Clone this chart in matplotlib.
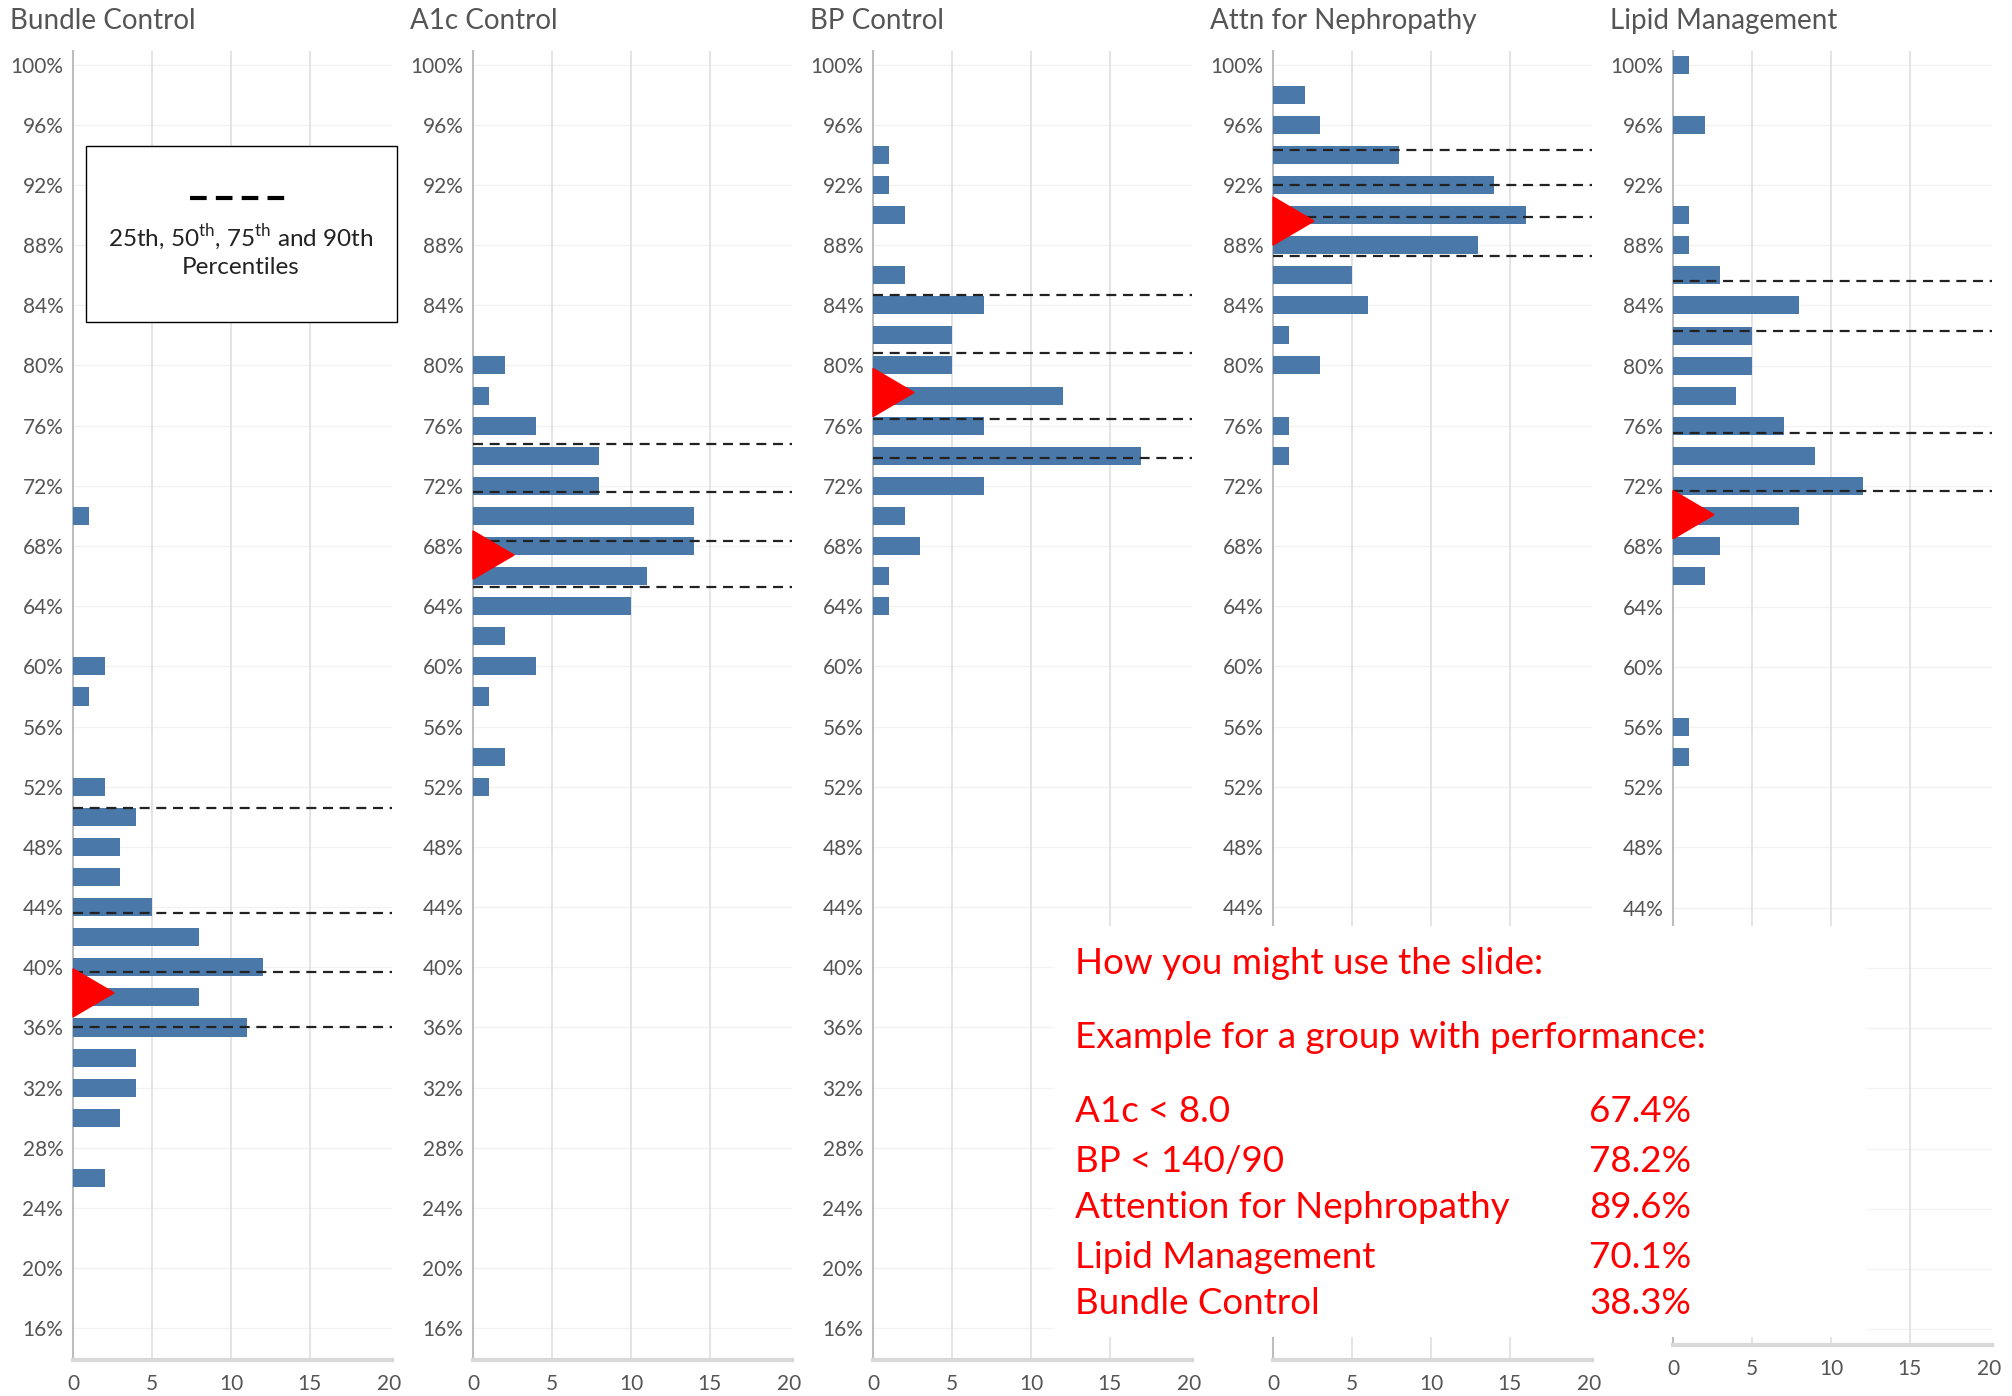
import matplotlib
matplotlib.use("Agg")
import matplotlib.pyplot as plt
from matplotlib.patches import Rectangle, Polygon
from matplotlib.lines import Line2D

plt.rcParams['font.family'] = ['Lato', 'DejaVu Sans']
plt.rcParams['mathtext.fontset'] = 'custom'
plt.rcParams['mathtext.rm'] = 'Lato'

# ---- data ----
titles = ["Bundle Control", "A1c Control", "BP Control", "Attn for Nephropathy", "Lipid Management"]

bundle_bins = [70, 60, 58, 52, 50, 48, 46, 44, 42, 40, 38, 36, 34, 32, 30, 26]
bundle_counts = [1, 2, 1, 2, 4, 3, 3, 5, 8, 12, 8, 11, 4, 4, 3, 2]
bundle_pct = [36.0, 39.7, 43.6, 50.6]
bundle_you = 38.3

a1c_bins = [80, 78, 76, 74, 72, 70, 68, 66, 64, 62, 60, 58, 54, 52]
a1c_counts = [2, 1, 4, 8, 8, 14, 14, 11, 10, 2, 4, 1, 2, 1]
a1c_pct = [65.3, 68.3, 71.6, 74.8]
a1c_you = 67.4

bp_bins = [94, 92, 90, 86, 84, 82, 80, 78, 76, 74, 72, 70, 68, 66, 64]
bp_counts = [1, 1, 2, 2, 7, 5, 5, 12, 7, 17, 7, 2, 3, 1, 1]
bp_pct = [73.85, 76.45, 80.8, 84.7]
bp_you = 78.2

neph_bins = [98, 96, 94, 92, 90, 88, 86, 84, 82, 80, 76, 74]
neph_counts = [2, 3, 8, 14, 16, 13, 5, 6, 1, 3, 1, 1]
neph_pct = [87.3, 89.9, 92.0, 94.3]
neph_you = 89.6

lipid_bins = [100, 96, 90, 88, 86, 84, 82, 80, 78, 76, 74, 72, 70, 68, 66, 56, 54]
lipid_counts = [1, 2, 1, 1, 3, 8, 5, 5, 4, 7, 9, 12, 8, 3, 2, 1, 1]
lipid_pct = [71.7, 75.5, 82.3, 85.6]
lipid_you = 70.1

panel_bins = [bundle_bins, a1c_bins, bp_bins, neph_bins, lipid_bins]
panel_counts = [bundle_counts, a1c_counts, bp_counts, neph_counts, lipid_counts]
panel_pct = [bundle_pct, a1c_pct, bp_pct, neph_pct, lipid_pct]
panel_you = [bundle_you, a1c_you, bp_you, neph_you, lipid_you]

y_ticks = list(range(16, 101, 4))
x_ticks = [0, 5, 10, 15, 20]

example_labels = ["A1c < 8.0", "BP < 140/90", "Attention for Nephropathy",
                  "Lipid Management", "Bundle Control"]
example_values = ["67.4%", "78.2%", "89.6%", "70.1%", "38.3%"]

# ---- layout ----
W, H = 2012, 1396
fig = plt.figure(figsize=(W / 100, H / 100), dpi=100)
fig.patch.set_facecolor("white")

BLUE = "#4a78a9"
GRAY = "#555555"
XMAX = 20.2

for i in range(5):
    left = 73 + 400 * i
    bottom_px = 1345 if i == 4 else 1360
    ymin = 14.95 if i == 4 else 13.9
    ax = fig.add_axes([left / W, (H - bottom_px) / H, 319 / W, (bottom_px - 51) / H])
    ax.barh(panel_bins[i], panel_counts[i], height=1.2, color=BLUE, zorder=3)
    ax.set_xlim(0, XMAX)
    ax.set_ylim(ymin, 100.9)

    for v in [5, 10, 15]:
        ax.axvline(v, color="#e2e2e2", lw=1.3, zorder=1)
    for v in y_ticks:
        ax.axhline(v, color="#f2f2f2", lw=1, zorder=0)

    for p in panel_pct[i]:
        ax.plot([0, XMAX], [p, p], color="#222222", lw=1.6,
                ls=(0, (4.5, 3)), zorder=4, clip_on=False)

    v = panel_you[i]
    ax.add_patch(Polygon([[0, v + 1.6], [0, v - 1.6], [2.6, v]],
                         closed=True, color="#ff0000", zorder=6, clip_on=False))

    # the lower labels of the last two panels sit under the example box
    shown = y_ticks if i < 3 else [t for t in y_ticks if t >= 44]
    ax.set_yticks(shown)
    ax.set_yticklabels([f"{t}%" for t in shown])
    ax.set_xticks(x_ticks)
    ax.set_xticklabels([str(t) for t in x_ticks])
    ax.tick_params(length=0, labelsize=15, labelcolor=GRAY)
    ax.tick_params(axis="y", pad=7)
    ax.tick_params(axis="x", pad=10)
    for s in ["top", "right"]:
        ax.spines[s].set_visible(False)
    ax.spines["left"].set_color("#bdbdbd")
    ax.spines["left"].set_linewidth(1.5)
    ax.spines["bottom"].set_color("#d8d8d8")
    ax.spines["bottom"].set_linewidth(3)

    fig.text((10 + 400 * i) / W, 1 - 21 / H, titles[i], fontsize=20,
             color=GRAY, ha="left", va="center")

# legend box for percentile lines
fig.add_artist(Rectangle((86 / W, 1 - 322 / H), (397 - 86) / W, (322 - 146) / H,
                         transform=fig.transFigure, facecolor="white",
                         edgecolor="black", lw=1, zorder=10))
fig.add_artist(Line2D([190 / W, 285 / W], [1 - 198 / H, 1 - 198 / H],
                      transform=fig.transFigure, color="black", lw=3,
                      ls=(0, (4, 2.2)), zorder=11))
fig.text(241 / W, 1 - 238 / H, r"25th, 50$^{\mathrm{th}}$, 75$^{\mathrm{th}}$ and 90th",
         fontsize=17.5, color="#222222", ha="center", va="center", zorder=11)
fig.text(241 / W, 1 - 268 / H, "Percentiles", fontsize=17.5, color="#222222",
         ha="center", va="center", zorder=11)

# white box with the worked example
fig.add_artist(Rectangle((1053 / W, 1 - 1337 / H), (1867 - 1053) / W, (1337 - 926) / H,
                         transform=fig.transFigure, facecolor="white",
                         edgecolor="none", zorder=10))
RED = "#ff0000"
fig.text(1075 / W, 1 - 963 / H, "How you might use the slide:", fontsize=26.5,
         color=RED, ha="left", va="center", zorder=12)
fig.text(1075 / W, 1 - 1038 / H, "Example for a group with performance:", fontsize=26.5,
         color=RED, ha="left", va="center", zorder=12)
row_y = [1112, 1161, 1208, 1257, 1304]
for lab, val, yy in zip(example_labels, example_values, row_y):
    fig.text(1075 / W, 1 - yy / H, lab, fontsize=26.5, color=RED,
             ha="left", va="center", zorder=12)
    fig.text(1589 / W, 1 - yy / H, val, fontsize=26.5, color=RED,
             ha="left", va="center", zorder=12)

fig.savefig("out.png", dpi=100, facecolor="white")
